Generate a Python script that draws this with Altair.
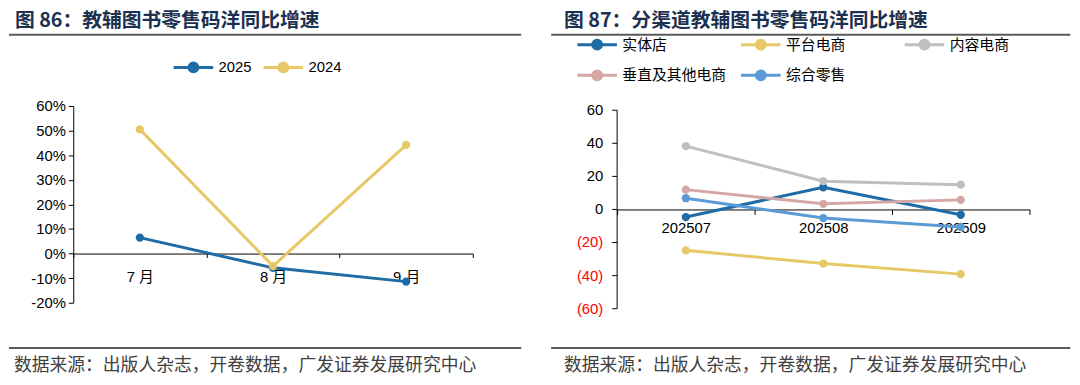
import altair as alt
import pandas as pd

# ---------------- data ----------------
months = ["7 月", "8 月", "9 月"]
series1 = ["2025", "2024"]
v2025 = [6.5, -5.8, -11.4]
v2024 = [50.5, -5.1, 44.2]
colors1 = ["#1f6ba5", "#e8c766"]
y1_ticks = [-20, -10, 0, 10, 20, 30, 40, 50, 60]

periods = ["202507", "202508", "202509"]
channels = ["实体店", "平台电商", "内容电商", "垂直及其他电商", "综合零售"]
v_shiti = [-4.6, 13.4, -3.2]
v_pingtai = [-24.7, -32.7, -39.1]
v_neirong = [38.3, 17.1, 15.0]
v_chuizhi = [12.0, 3.4, 5.8]
v_zonghe = [6.8, -5.2, -10.6]
colors2 = ["#1f6ba5", "#e8c766", "#bfbfbf", "#d4a7a5", "#5b9bd5"]
y2_ticks = [-60, -40, -20, 0, 20, 40, 60]

title1 = "图 86：教辅图书零售码洋同比增速"
title2 = "图 87：分渠道教辅图书零售码洋同比增速"
source_text = "数据来源：出版人杂志，开卷数据，广发证券发展研究中心"

df1 = pd.DataFrame(
    [(m, "2025", v) for m, v in zip(months, v2025)]
    + [(m, "2024", v) for m, v in zip(months, v2024)],
    columns=["month", "series", "value"],
)
vals2 = [v_shiti, v_pingtai, v_neirong, v_chuizhi, v_zonghe]
df2 = pd.DataFrame(
    [(p, c, v) for c, vs in zip(channels, vals2) for p, v in zip(periods, vs)],
    columns=["period", "channel", "value"],
)

LATIN = "Liberation Sans, Arial, Noto Sans CJK SC"
CJK = "Noto Sans CJK SC"
TITLE_COLOR = "#1c3150"
RULE_COLOR = "#5a5a5a"
# legend symbol: a 40px line with a 9px dot, drawn on a 10px symbol cell
SYMBOL = "M-4,0H4M0.9,0A0.9,0.9,0,1,1,-0.9,0A0.9,0.9,0,1,1,0.9,0Z"


def decor(title, title_x, rule_x1, rule_x2, footer_x):
    one = pd.DataFrame({"t": [title]})
    src = pd.DataFrame({"t": [source_text]})
    t = alt.Chart(one).mark_text(
        align="left", baseline="middle", font=CJK, fontSize=20,
        fontWeight="bold", color=TITLE_COLOR,
    ).encode(text="t:N", x=alt.value(title_x), y=alt.value(-86))
    r1 = alt.Chart(one).mark_rule(color=RULE_COLOR, strokeWidth=2).encode(
        x=alt.value(rule_x1), x2=alt.value(rule_x2), y=alt.value(-72))
    r2 = alt.Chart(one).mark_rule(color=RULE_COLOR, strokeWidth=2).encode(
        x=alt.value(rule_x1), x2=alt.value(rule_x2), y=alt.value(244.7))
    f = alt.Chart(src).mark_text(
        align="left", baseline="middle", font=CJK, fontSize=18, color="#404040",
    ).encode(text="t:N", x=alt.value(footer_x), y=alt.value(263))
    return [t, r1, r2, f]


# ---------------- panel 1 ----------------
W1, H1 = 404, 199
x1 = alt.X(
    "month:N", sort=months,
    scale=alt.Scale(type="band", paddingInner=0, paddingOuter=0),
    axis=alt.Axis(
        title=None, orient="bottom", offset=-49.75, tickBand="extent",
        labelAngle=0, domainColor="black", tickColor="black", tickSize=4,
        labelPadding=12, labelFont=LATIN, labelFontSize=15, labelColor="black",
    ),
)
y1 = alt.Y(
    "value:Q",
    scale=alt.Scale(domain=[-20, 60], nice=False, zero=False),
    axis=alt.Axis(
        title=None, values=y1_ticks, labelExpr="datum.value + '%'", grid=False,
        domainColor="black", tickColor="black", tickSize=5, labelPadding=3,
        labelFont=LATIN, labelFontSize=15, labelColor="black", labelOverlap=False,
    ),
)
c1 = alt.Color(
    "series:N", sort=series1,
    scale=alt.Scale(domain=series1, range=colors1),
    legend=alt.Legend(
        title=None, orient="none", legendX=114, legendY=-46.5, direction="horizontal",
        symbolType=SYMBOL, symbolSize=100, symbolStrokeWidth=3,
        labelFont=LATIN, labelFontSize=15, labelColor="black", labelOffset=18,
        columnPadding=5,
    ),
)
base1 = alt.Chart(df1).encode(x=x1, y=y1, color=c1)
p1 = alt.layer(
    base1.mark_line(strokeWidth=3),
    base1.mark_point(filled=True, size=70, opacity=1),
    *decor(title1, -59, -65, 453, -60),
).properties(width=W1, height=H1)

# ---------------- panel 2 ----------------
W2, H2 = 417, 205
y2_scale = alt.Scale(domain=[-60, 62.57], nice=False, zero=False)
x2 = alt.X(
    "period:N", sort=periods,
    scale=alt.Scale(type="band", paddingInner=0, paddingOuter=0),
    axis=alt.Axis(
        title=None, orient="bottom", offset=-100.35, tickBand="extent",
        labelAngle=0, domainColor="black", tickColor="black", tickSize=5,
        labelPadding=6, labelFont=LATIN, labelFontSize=15, labelColor="black",
    ),
)
c2 = alt.Color(
    "channel:N", sort=channels,
    scale=alt.Scale(domain=channels, range=colors2),
    legend=alt.Legend(
        title=None, orient="none", legendX=-27.7, legendY=-69.5, direction="horizontal",
        columns=3, gridAlign="all",
        symbolType=SYMBOL, symbolSize=100, symbolStrokeWidth=3,
        labelFont=CJK, labelFontSize=15, labelColor="black", labelOffset=18,
        columnPadding=7.5, rowPadding=10,
    ),
)
base2 = alt.Chart(df2).encode(
    x=x2, y=alt.Y("value:Q", scale=y2_scale, axis=None), color=c2
)

# y axis of panel 2 (line, ticks and labels) drawn from the tick list
ticks_df = pd.DataFrame({"value": y2_ticks})
axis_df = pd.DataFrame({"value": [y2_ticks[0]], "hi": [y2_ticks[-1]]})
yaxis_line = alt.Chart(axis_df).mark_rule(color="black", strokeWidth=1).encode(
    x=alt.value(0), y=alt.Y("value:Q", scale=y2_scale, axis=None), y2="hi:Q"
)
yaxis_ticks = alt.Chart(ticks_df).mark_rule(color="black", strokeWidth=1).encode(
    x=alt.value(-5), x2=alt.value(0), y=alt.Y("value:Q", scale=y2_scale, axis=None)
)
yaxis_labels = alt.Chart(ticks_df).transform_calculate(
    label="datum.value < 0 ? '(' + abs(datum.value) + ')' : datum.value + '\u00a0'"
).mark_text(align="right", baseline="middle", font=LATIN, fontSize=15).encode(
    x=alt.value(-14),
    y=alt.Y("value:Q", scale=y2_scale, axis=None),
    text="label:N",
    color=alt.condition("datum.value < 0", alt.value("#ff0000"), alt.value("black")),
)

p2 = alt.layer(
    base2.mark_line(strokeWidth=3),
    base2.mark_point(filled=True, size=70, opacity=1),
    yaxis_line,
    yaxis_ticks,
    yaxis_labels,
    *decor(title2, -53.7, -66.7, 458.3, -53.7),
).properties(width=W2, height=H2)

chart = (
    alt.hconcat(p1, p2, spacing=28)
    .resolve_scale(x="independent", y="independent", color="independent")
    .resolve_legend(color="independent")
    .properties(padding={"left": 0, "top": 1, "right": 0, "bottom": 0}, background="white")
    .configure_view(stroke=None)
)

chart.save("out.html", embed_options={"renderer": "svg", "actions": False})
